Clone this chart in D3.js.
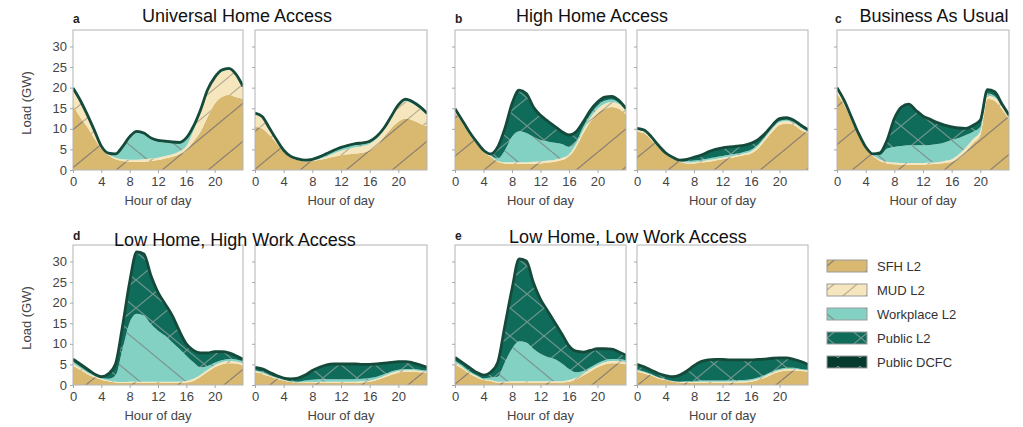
<!DOCTYPE html>
<html>
<head>
<meta charset="utf-8">
<script src="https://cdn.jsdelivr.net/npm/d3@7"></script>
<style>
    html, body { margin: 0; padding: 0; background: #fff; }
    svg { display: block; font-family: "Liberation Sans", Arial, Helvetica, sans-serif; }
</style>
</head>
<body>
<div id="chart"></div>
<script>
(function(d3, window, document, undefined) {
    'use strict';

    /**
     * + data
     * =====================================================================
     */

    var hours = [0, 1, 2, 3, 4, 5, 6, 7, 8, 9, 10, 11, 12, 13, 14, 15, 16, 17, 18, 19, 20, 21, 22, 23, 24];
    var seriesNames = ['SFH L2', 'MUD L2', 'Workplace L2', 'Public L2', 'Public DCFC'];
    var xTicks = [0, 4, 8, 12, 16, 20];
    var yTicks = [0, 5, 10, 15, 20, 25, 30];

    // each block: SFH, MUD, Workplace, Public L2, Public DCFC (GW per hour)
    var loadA1 = [
        [15.7, 12.9, 10.5, 7.7, 5.2, 3.6, 2.6, 2.2, 2.0, 2.0, 2.0, 2.2, 2.4, 2.8, 3.2, 3.8, 4.8, 6.9, 9.3, 12.9, 16.1, 17.7, 18.3, 17.7, 17.3],
        [3.7, 3.6, 2.5, 1.5, 0.3, 0.2, 0.4, 0.4, 0.5, 0.5, 0.6, 0.6, 0.6, 0.6, 0.6, 0.7, 1.0, 2.6, 4.7, 6.1, 5.9, 6.1, 6.0, 5.3, 2.7],
        [0.2, 0.2, 0.2, 0.2, 0.1, 0.1, 0.7, 2.8, 5.3, 6.6, 6.1, 4.7, 3.9, 3.3, 2.7, 1.9, 1.7, 0.8, 0.3, 0.2, 0.2, 0.2, 0.1, 0.0, 0.0],
        [0.2, 0.2, 0.2, 0.2, 0.1, 0.1, 0.1, 0.2, 0.2, 0.2, 0.2, 0.2, 0.2, 0.2, 0.2, 0.2, 0.2, 0.2, 0.2, 0.2, 0.2, 0.2, 0.2, 0.2, 0.2],
        [0.1, 0.1, 0.1, 0.1, 0.1, 0.1, 0.1, 0.1, 0.1, 0.1, 0.1, 0.1, 0.1, 0.1, 0.1, 0.1, 0.1, 0.1, 0.1, 0.1, 0.1, 0.1, 0.1, 0.1, 0.1]
    ];
    var loadA2 = [
        [10.5, 10.1, 8.5, 6.5, 4.4, 3.0, 2.4, 2.0, 2.2, 2.5, 2.8, 3.2, 3.6, 3.8, 4.0, 4.2, 4.8, 6.0, 8.1, 10.1, 11.7, 12.5, 12.1, 11.3, 10.6],
        [2.9, 2.5, 1.3, 0.6, 0.2, 0.1, 0.1, 0.1, 0.1, 0.2, 0.5, 0.8, 1.1, 1.3, 1.5, 1.6, 1.5, 1.6, 1.6, 2.4, 3.6, 4.2, 4.0, 3.6, 2.8],
        [0.1, 0.1, 0.1, 0.1, 0.0, 0.0, 0.0, 0.1, 0.1, 0.2, 0.4, 0.5, 0.5, 0.6, 0.6, 0.5, 0.4, 0.3, 0.2, 0.2, 0.2, 0.2, 0.2, 0.2, 0.1],
        [0.2, 0.2, 0.2, 0.1, 0.1, 0.1, 0.1, 0.1, 0.1, 0.2, 0.2, 0.2, 0.2, 0.2, 0.2, 0.2, 0.2, 0.2, 0.2, 0.2, 0.2, 0.2, 0.2, 0.2, 0.2],
        [0.1, 0.1, 0.1, 0.1, 0.1, 0.1, 0.1, 0.1, 0.1, 0.1, 0.1, 0.1, 0.1, 0.1, 0.1, 0.1, 0.1, 0.1, 0.1, 0.1, 0.1, 0.1, 0.1, 0.1, 0.1]
    ];
    var loadB1 = [
        [14.0, 11.4, 8.7, 6.4, 4.4, 3.2, 2.0, 1.6, 1.5, 1.5, 1.5, 1.5, 1.6, 1.8, 2.0, 2.4, 3.2, 5.6, 8.9, 11.7, 13.7, 14.9, 15.3, 14.9, 13.5],
        [0.5, 0.4, 0.3, 0.2, 0.2, 0.2, 0.2, 0.3, 0.4, 0.4, 0.4, 0.5, 0.5, 0.5, 0.5, 0.5, 0.6, 0.7, 0.8, 1.0, 1.1, 1.2, 1.2, 1.1, 0.9],
        [0.1, 0.1, 0.1, 0.1, 0.1, 0.1, 0.6, 2.9, 6.2, 7.5, 7.1, 6.1, 5.2, 4.6, 4.1, 3.4, 1.8, 0.6, 0.8, 0.8, 0.8, 0.7, 0.6, 0.3, 0.2],
        [0.2, 0.1, 0.1, 0.1, 0.0, 0.3, 2.7, 5.2, 7.9, 9.9, 9.5, 7.1, 5.9, 4.9, 3.9, 2.9, 2.8, 2.3, 1.1, 0.9, 0.8, 0.8, 0.7, 0.5, 0.2],
        [0.1, 0.1, 0.1, 0.1, 0.1, 0.1, 0.1, 0.1, 0.1, 0.1, 0.1, 0.1, 0.1, 0.1, 0.1, 0.1, 0.1, 0.1, 0.1, 0.1, 0.1, 0.1, 0.1, 0.1, 0.1]
    ];
    var loadB2 = [
        [9.3, 8.9, 7.3, 5.6, 4.0, 2.8, 2.0, 1.6, 1.6, 1.8, 2.0, 2.3, 2.6, 2.9, 3.2, 3.6, 4.0, 5.2, 7.3, 9.3, 10.9, 11.3, 10.9, 9.7, 8.9],
        [0.4, 0.4, 0.3, 0.2, 0.1, 0.1, 0.1, 0.2, 0.3, 0.3, 0.4, 0.4, 0.4, 0.4, 0.4, 0.4, 0.5, 0.6, 0.6, 0.7, 0.7, 0.6, 0.5, 0.5, 0.4],
        [0.1, 0.1, 0.1, 0.1, 0.0, 0.1, 0.1, 0.3, 0.4, 0.4, 0.4, 0.4, 0.4, 0.4, 0.4, 0.4, 0.4, 0.4, 0.3, 0.3, 0.3, 0.3, 0.2, 0.2, 0.1],
        [0.2, 0.2, 0.3, 0.0, 0.0, 0.0, 0.1, 0.4, 0.7, 1.0, 1.5, 1.8, 1.9, 1.8, 1.7, 1.5, 1.5, 1.1, 0.6, 0.5, 0.5, 0.4, 0.4, 0.4, 0.3],
        [0.1, 0.1, 0.1, 0.1, 0.1, 0.1, 0.1, 0.1, 0.1, 0.1, 0.1, 0.1, 0.1, 0.1, 0.1, 0.1, 0.1, 0.1, 0.1, 0.1, 0.1, 0.1, 0.1, 0.1, 0.1]
    ];
    var loadC = [
        [18.5, 15.8, 12.2, 8.4, 5.2, 3.4, 2.2, 1.6, 1.4, 1.3, 1.3, 1.3, 1.3, 1.4, 1.5, 1.7, 2.0, 3.0, 4.5, 6.5, 8.5, 17.3, 16.8, 14.8, 12.3],
        [0.8, 0.6, 0.4, 0.3, 0.2, 0.2, 0.3, 0.4, 0.4, 0.4, 0.4, 0.4, 0.4, 0.4, 0.4, 0.5, 0.6, 0.8, 1.0, 1.0, 1.0, 0.8, 0.8, 0.6, 0.5],
        [0.1, 0.1, 0.1, 0.1, 0.1, 0.1, 1.1, 3.2, 3.8, 4.1, 4.3, 4.3, 4.3, 4.3, 4.4, 4.5, 4.7, 4.0, 3.0, 1.8, 1.0, 0.5, 0.4, 0.3, 0.2],
        [0.4, 0.2, 0.1, 0.0, 0.0, 0.0, 0.4, 1.9, 6.7, 9.3, 9.8, 8.3, 6.9, 6.0, 5.0, 4.0, 3.0, 2.2, 1.4, 1.4, 1.4, 0.7, 0.8, 0.2, 0.1],
        [0.2, 0.2, 0.1, 0.1, 0.1, 0.2, 0.2, 0.2, 0.2, 0.2, 0.2, 0.2, 0.2, 0.2, 0.2, 0.2, 0.2, 0.2, 0.2, 0.2, 0.2, 0.2, 0.2, 0.2, 0.2]
    ];
    var loadD1 = [
        [4.7, 3.7, 2.7, 1.9, 1.3, 0.9, 0.6, 0.5, 0.5, 0.5, 0.5, 0.5, 0.5, 0.5, 0.5, 0.5, 0.6, 1.0, 2.0, 3.2, 4.3, 5.0, 5.3, 5.2, 4.7],
        [0.5, 0.4, 0.3, 0.3, 0.2, 0.2, 0.2, 0.2, 0.3, 0.3, 0.3, 0.3, 0.3, 0.3, 0.3, 0.3, 0.4, 0.5, 0.5, 0.5, 0.5, 0.5, 0.5, 0.5, 0.5],
        [0.5, 0.4, 0.3, 0.2, 0.2, 0.4, 1.5, 8.1, 14.4, 16.5, 16.1, 14.0, 12.4, 11.2, 9.6, 8.0, 6.1, 4.0, 1.8, 0.9, 0.6, 0.5, 0.5, 0.5, 0.5],
        [0.4, 0.4, 0.4, 0.1, 0.1, 1.0, 2.6, 5.4, 9.6, 14.8, 14.7, 11.6, 9.1, 7.5, 6.3, 4.2, 2.7, 2.7, 3.3, 3.0, 2.5, 1.9, 1.3, 0.7, 0.3],
        [0.2, 0.2, 0.2, 0.2, 0.2, 0.2, 0.2, 0.2, 0.2, 0.2, 0.2, 0.2, 0.2, 0.2, 0.2, 0.2, 0.2, 0.2, 0.2, 0.2, 0.2, 0.2, 0.2, 0.2, 0.2]
    ];
    var loadD2 = [
        [3.1, 2.7, 2.1, 1.5, 1.1, 0.7, 0.5, 0.5, 0.5, 0.5, 0.5, 0.5, 0.5, 0.5, 0.5, 0.6, 0.8, 1.2, 1.8, 2.5, 3.0, 3.2, 3.2, 3.1, 3.0],
        [0.3, 0.3, 0.2, 0.2, 0.1, 0.1, 0.1, 0.2, 0.2, 0.3, 0.3, 0.3, 0.3, 0.3, 0.3, 0.3, 0.3, 0.3, 0.4, 0.4, 0.4, 0.4, 0.4, 0.3, 0.3],
        [0.2, 0.2, 0.2, 0.1, 0.1, 0.1, 0.2, 0.4, 0.6, 0.6, 0.6, 0.6, 0.6, 0.6, 0.6, 0.6, 0.6, 0.5, 0.4, 0.4, 0.3, 0.3, 0.3, 0.3, 0.2],
        [0.6, 0.6, 0.5, 0.4, 0.3, 0.5, 0.8, 1.2, 2.1, 2.8, 3.4, 3.6, 3.6, 3.6, 3.6, 3.4, 3.2, 3.0, 2.6, 2.1, 1.9, 1.7, 1.4, 1.1, 0.7],
        [0.1, 0.1, 0.1, 0.1, 0.1, 0.1, 0.1, 0.1, 0.1, 0.1, 0.1, 0.1, 0.1, 0.1, 0.1, 0.1, 0.1, 0.1, 0.1, 0.1, 0.1, 0.1, 0.1, 0.1, 0.1]
    ];
    var loadE1 = [
        [5.0, 4.0, 2.8, 1.9, 1.2, 1.0, 0.6, 0.6, 0.6, 0.6, 0.6, 0.6, 0.6, 0.6, 0.6, 0.6, 0.8, 1.3, 2.3, 3.3, 4.3, 5.0, 5.3, 5.3, 5.0],
        [0.5, 0.4, 0.3, 0.3, 0.2, 0.2, 0.2, 0.2, 0.3, 0.3, 0.3, 0.3, 0.3, 0.3, 0.3, 0.3, 0.4, 0.5, 0.5, 0.5, 0.5, 0.5, 0.5, 0.5, 0.5],
        [0.4, 0.4, 0.3, 0.2, 0.2, 0.6, 1.2, 4.7, 7.9, 9.7, 9.4, 7.9, 6.7, 5.9, 5.4, 4.3, 2.7, 1.3, 0.6, 0.5, 0.5, 0.5, 0.5, 0.5, 0.5],
        [0.6, 0.5, 0.7, 0.5, 0.6, 1.1, 3.3, 8.7, 14.3, 19.8, 19.6, 15.9, 13.0, 11.0, 8.7, 7.0, 5.4, 4.9, 4.4, 3.9, 3.3, 2.6, 2.2, 1.5, 1.0],
        [0.2, 0.2, 0.2, 0.2, 0.2, 0.2, 0.2, 0.2, 0.2, 0.2, 0.2, 0.2, 0.2, 0.2, 0.2, 0.2, 0.2, 0.2, 0.2, 0.2, 0.2, 0.2, 0.2, 0.2, 0.2]
    ];
    var loadE2 = [
        [3.2, 2.8, 2.3, 1.6, 1.2, 0.8, 0.6, 0.5, 0.5, 0.5, 0.5, 0.5, 0.5, 0.5, 0.6, 0.6, 0.8, 1.2, 1.8, 2.6, 3.2, 3.5, 3.5, 3.4, 3.2],
        [0.3, 0.3, 0.2, 0.2, 0.1, 0.1, 0.1, 0.2, 0.2, 0.3, 0.3, 0.3, 0.3, 0.3, 0.3, 0.3, 0.3, 0.3, 0.4, 0.4, 0.4, 0.4, 0.4, 0.3, 0.3],
        [0.2, 0.2, 0.2, 0.1, 0.1, 0.1, 0.1, 0.2, 0.3, 0.3, 0.3, 0.3, 0.3, 0.3, 0.3, 0.3, 0.3, 0.3, 0.3, 0.3, 0.3, 0.3, 0.3, 0.2, 0.2],
        [1.2, 1.0, 0.8, 0.8, 0.8, 0.9, 1.5, 2.4, 3.6, 4.5, 4.9, 5.0, 5.0, 4.9, 4.8, 4.8, 4.6, 4.3, 3.7, 3.1, 2.6, 2.3, 1.9, 1.7, 1.2],
        [0.1, 0.1, 0.1, 0.1, 0.1, 0.1, 0.1, 0.1, 0.1, 0.1, 0.1, 0.1, 0.1, 0.1, 0.1, 0.1, 0.1, 0.1, 0.1, 0.1, 0.1, 0.1, 0.1, 0.1, 0.1]
    ];

    /* = data */


    /**
     * + layout
     * =====================================================================
     */

    var width = 1023,
        height = 427;

    var rows = [
        { top: 30, bottom: 170 },
        { top: 245, bottom: 385 }
    ];

    var panels = [
        { load: loadA1, left: 73,  right: 243,  row: 0, yLabels: true },
        { load: loadA2, left: 255, right: 427,  row: 0 },
        { load: loadB1, left: 455, right: 626,  row: 0 },
        { load: loadB2, left: 637, right: 808,  row: 0 },
        { load: loadC,  left: 837, right: 1009, row: 0 },
        { load: loadD1, left: 73,  right: 243,  row: 1, yLabels: true },
        { load: loadD2, left: 255, right: 427,  row: 1 },
        { load: loadE1, left: 455, right: 626,  row: 1 },
        { load: loadE2, left: 637, right: 808,  row: 1 }
    ];

    var titles = [
        { text: 'Universal Home Access',      x: 237, y: 22 },
        { text: 'High Home Access',           x: 592, y: 22 },
        { text: 'Business As Usual',          x: 934, y: 22 },
        { text: 'Low Home, High Work Access', x: 235, y: 246 },
        { text: 'Low Home, Low Work Access',  x: 628, y: 243 }
    ];

    var letters = [
        { text: 'a', x: 73,  y: 23 },
        { text: 'b', x: 455, y: 23 },
        { text: 'c', x: 835, y: 23 },
        { text: 'd', x: 73,  y: 240 },
        { text: 'e', x: 455, y: 240 }
    ];

    var fills = ['#d9b870', '#f5e6bd', '#82d1c2', '#0f6b5a', '#073a2e'];
    var outline = '#154a3b';

    /* = layout */


    var svg = d3.select('#chart').append('svg')
                .attr('width', width)
                .attr('height', height);

    var defs = svg.append('defs');

    /**
     * + hatch patterns
     * =====================================================================
     */

    function hatch(id, bg, w, h, dirs, stroke, sw) {
        var pat = defs.append('pattern')
                    .attr('id', id)
                    .attr('patternUnits', 'userSpaceOnUse')
                    .attr('width', w)
                    .attr('height', h);
        pat.append('rect').attr('width', w).attr('height', h).attr('fill', bg);
        dirs.forEach(function(dir) {
            [-w, 0, w].forEach(function(off) {
                pat.append('line')
                    .attr('x1', off)
                    .attr('y1', dir === 'up' ? h : 0)
                    .attr('x2', off + w)
                    .attr('y2', dir === 'up' ? 0 : h)
                    .attr('stroke', stroke)
                    .attr('stroke-width', sw);
            });
        });
    }

    hatch('fill-0', fills[0], 46, 38, ['up'], '#8b8170', 1.3);
    hatch('fill-1', fills[1], 23, 19, ['up'], '#b3a98f', 1.1);
    hatch('fill-2', fills[2], 46, 38, ['down'], '#7f9590', 1.3);
    hatch('fill-3', fills[3], 34, 28, ['up', 'down'], '#6f958b', 1.2);

    var dots = defs.append('pattern')
                .attr('id', 'fill-4')
                .attr('patternUnits', 'userSpaceOnUse')
                .attr('width', 22)
                .attr('height', 12);
    dots.append('rect').attr('width', 22).attr('height', 12).attr('fill', fills[4]);
    dots.append('circle').attr('cx', 11).attr('cy', 6).attr('r', 1.6)
        .attr('fill', 'none').attr('stroke', '#8a9a94').attr('stroke-width', 0.8);

    /* = hatch patterns */


    /**
     * + panels
     * =====================================================================
     */

    panels.forEach(function(p, pi) {
        var row = rows[p.row];
        var x = d3.scaleLinear().domain([0, 24]).range([p.left, p.right]);
        var y = d3.scaleLinear().domain([0, 34]).range([row.bottom, row.top]);

        var table = hours.map(function(h, i) {
            var r = { hour: h };
            seriesNames.forEach(function(s, k) { r[s] = p.load[k][i]; });
            return r;
        });
        var stacked = d3.stack().keys(seriesNames)(table);

        var clipId = 'clip-' + pi;
        defs.append('clipPath').attr('id', clipId)
            .append('rect')
            .attr('x', p.left).attr('y', row.top)
            .attr('width', p.right - p.left).attr('height', row.bottom - row.top);

        var g = svg.append('g');
        var plot = g.append('g').attr('clip-path', 'url(#' + clipId + ')');

        var area = d3.area()
                    .x(function(d) { return x(d.data.hour); })
                    .y0(function(d) { return y(d[0]); })
                    .y1(function(d) { return y(d[1]); })
                    .curve(d3.curveMonotoneX);

        plot.selectAll('path.layer')
            .data(stacked)
            .enter().append('path')
            .attr('class', 'layer')
            .attr('d', area)
            .attr('fill', function(d, k) { return 'url(#fill-' + k + ')'; });

        var top = d3.line()
                    .x(function(d) { return x(d.data.hour); })
                    .y(function(d) { return y(d[1]); })
                    .curve(d3.curveMonotoneX);

        plot.append('path')
            .datum(stacked[stacked.length - 1])
            .attr('d', top)
            .attr('fill', 'none')
            .attr('stroke', outline)
            .attr('stroke-width', 2.8)
            .attr('stroke-linejoin', 'round');

        g.append('rect')
            .attr('x', p.left).attr('y', row.top)
            .attr('width', p.right - p.left).attr('height', row.bottom - row.top)
            .attr('fill', 'none')
            .attr('stroke', '#b4b4b4')
            .attr('stroke-width', 1);

        var yAxis = d3.axisLeft(y)
                    .tickValues(yTicks)
                    .tickSize(3)
                    .tickPadding(3)
                    .tickFormat(p.yLabels ? d3.format('d') : function() { return ''; });
        var xAxis = d3.axisBottom(x)
                    .tickValues(xTicks)
                    .tickSize(3)
                    .tickPadding(4)
                    .tickFormat(d3.format('d'));

        var ya = g.append('g').attr('transform', 'translate(' + p.left + ',0)').call(yAxis);
        var xa = g.append('g').attr('transform', 'translate(0,' + row.bottom + ')').call(xAxis);

        [ya, xa].forEach(function(a) {
            a.select('.domain').remove();
            a.selectAll('.tick line').attr('stroke', '#a8a8a8');
            a.selectAll('.tick text')
                .attr('fill', '#444')
                .style('font-size', '13px')
                .style('font-family', '"Liberation Sans", Arial, sans-serif');
        });

        g.append('text')
            .attr('x', (p.left + p.right) / 2)
            .attr('y', row.bottom + 34.5)
            .attr('text-anchor', 'middle')
            .attr('fill', '#444')
            .style('font-size', '13px')
            .text('Hour of day');

        if (p.yLabels) {
            g.append('text')
                .attr('transform', 'translate(31,' + ((row.top + row.bottom) / 2 + 3) + ') rotate(-90)')
                .attr('text-anchor', 'middle')
                .attr('fill', '#444')
                .style('font-size', '13px')
                .text('Load (GW)');
        }
    });

    /* = panels */


    /**
     * + titles, letters, legend
     * =====================================================================
     */

    svg.selectAll('text.title')
        .data(titles)
        .enter().append('text')
        .attr('class', 'title')
        .attr('x', function(d) { return d.x; })
        .attr('y', function(d) { return d.y; })
        .attr('text-anchor', 'middle')
        .attr('fill', '#111')
        .style('font-size', '18px')
        .text(function(d) { return d.text; });

    svg.selectAll('text.letter')
        .data(letters)
        .enter().append('text')
        .attr('class', 'letter')
        .attr('x', function(d) { return d.x; })
        .attr('y', function(d) { return d.y; })
        .attr('fill', '#222')
        .style('font-size', '12px')
        .style('font-weight', 'bold')
        .text(function(d) { return d.text; });

    var legend = svg.append('g').attr('transform', 'translate(827,266)');
    var item = legend.selectAll('g.item')
                .data(seriesNames)
                .enter().append('g')
                .attr('class', 'item')
                .attr('transform', function(d, i) { return 'translate(0,' + (i * 24) + ')'; });

    item.append('rect')
        .attr('x', 0).attr('y', -6)
        .attr('width', 40).attr('height', 12)
        .attr('fill', function(d, i) { return 'url(#fill-' + i + ')'; })
        .attr('stroke', '#9a9a9a')
        .attr('stroke-width', 1);

    item.append('text')
        .attr('x', 50).attr('y', 4.5)
        .attr('fill', '#333')
        .style('font-size', '13px')
        .text(function(d) { return d; });

    /* = titles, letters, legend */

})(d3, window, document);
</script>
</body>
</html>
